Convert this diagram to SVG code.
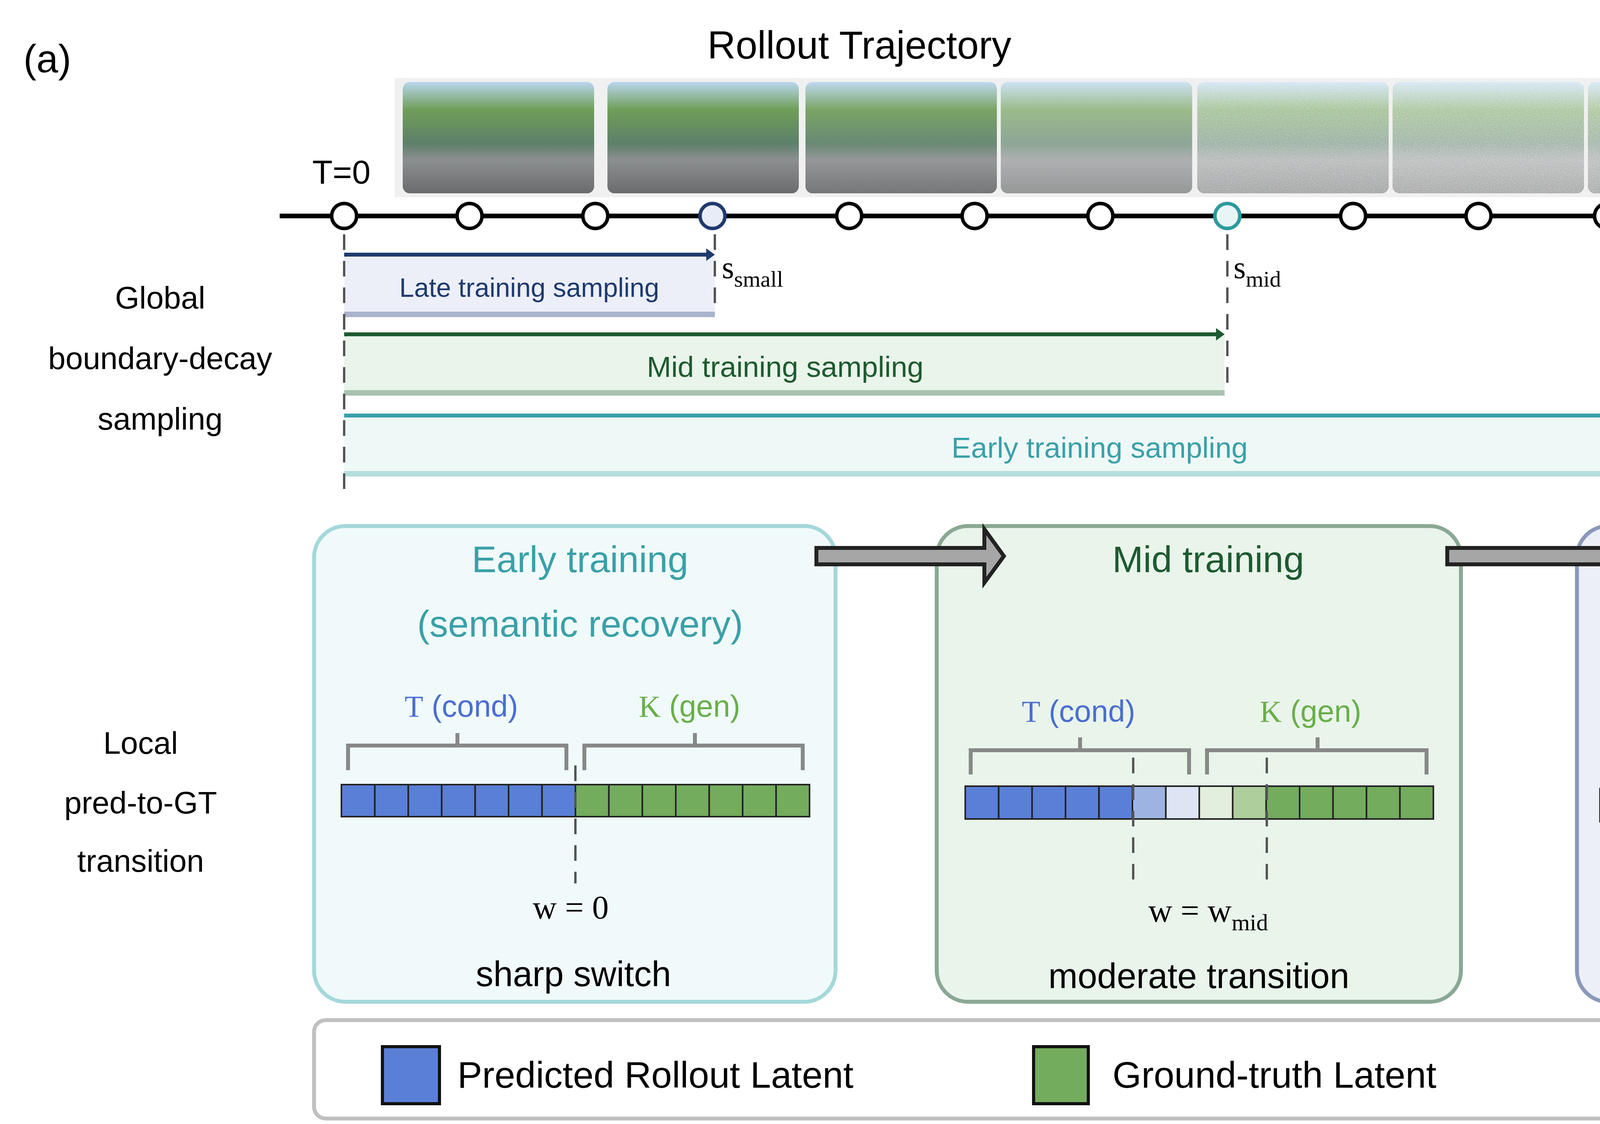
<svg xmlns="http://www.w3.org/2000/svg" width="8000" height="2878" viewBox="0 0 8000 2878">
<style>
.s{font-family:"Liberation Sans","DejaVu Sans",sans-serif}
.o{font-family:"Open Sans","Liberation Sans",sans-serif}
.d{font-family:"DejaVu Sans",sans-serif}
.sr{font-family:"Liberation Serif",serif}
.cell{stroke:#222;stroke-width:4}
.brk{fill:none;stroke:#888;stroke-width:10}
.dash{stroke:#555;stroke-width:6;stroke-dasharray:40 28}
.tick{stroke:#000;stroke-width:6}
.circ{fill:#fff;stroke:#000;stroke-width:9}
</style>
<defs>
<marker id="ah" viewBox="0 0 10 10" refX="9" refY="5" markerWidth="6" markerHeight="6" orient="auto-start-reverse" markerUnits="strokeWidth"><path d="M0,0 L10,5 L0,10 z" fill="#000"/></marker>
<linearGradient id="scene" x1="0" y1="0" x2="0" y2="1"><stop offset="0" stop-color="#b9d6ee"/><stop offset="0.25" stop-color="#6f9e58"/><stop offset="0.55" stop-color="#5d7f6a"/><stop offset="0.7" stop-color="#8c8f90"/><stop offset="1" stop-color="#6a6b6c"/></linearGradient>
<linearGradient id="blend" x1="0" y1="0" x2="1" y2="0"><stop offset="0" stop-color="#5a7fd6"/><stop offset="0.5" stop-color="#ffffff"/><stop offset="1" stop-color="#74ac5e"/></linearGradient>
<linearGradient id="h1" x1="0" y1="0" x2="0" y2="1"><stop offset="0" stop-color="#2a0f5a"/><stop offset="1" stop-color="#1a0b3c"/></linearGradient>
<linearGradient id="h2" x1="0" y1="0" x2="0" y2="1"><stop offset="0" stop-color="#5a1a84"/><stop offset="0.6" stop-color="#3a1070"/><stop offset="1" stop-color="#9a2f80"/></linearGradient>
<linearGradient id="h3" x1="0" y1="0" x2="0" y2="1"><stop offset="0" stop-color="#7a2382"/><stop offset="0.6" stop-color="#4a1278"/><stop offset="1" stop-color="#c04a76"/></linearGradient>
<linearGradient id="h4" x1="0" y1="0" x2="0" y2="1"><stop offset="0" stop-color="#e0705f"/><stop offset="0.5" stop-color="#a0307c"/><stop offset="1" stop-color="#fcd79a"/></linearGradient>
<filter id="noise" x="0" y="0" width="1" height="1"><feTurbulence type="fractalNoise" baseFrequency="0.06" numOctaves="2" seed="3"/><feColorMatrix type="matrix" values="0 0 0 0 0  0 0 0 0 0  0 0 0 0 0  0 0 0 -1.4 1.1"/></filter>
<filter id="wnoise" x="0" y="0" width="1" height="1"><feTurbulence type="fractalNoise" baseFrequency="0.5" numOctaves="1" seed="7"/><feColorMatrix type="matrix" values="0 0 0 0 1  0 0 0 0 1  0 0 0 0 1  0 0 0 -2 1.3"/></filter>
</defs>
<rect width="8000" height="2878" fill="#fff"/>

<text class="s" x="60" y="185" font-size="100">(a)</text>
<text class="s" x="2200" y="150" font-size="100" text-anchor="middle">Rollout Trajectory</text>

<g id="frames">
<rect x="1010" y="200" width="4040" height="305" fill="#f0f0f0"/>
<g id="f1"><rect x="1031" y="210" width="490" height="285" rx="18" fill="url(#scene)"/></g>
<g id="f2"><rect x="1555" y="210" width="490" height="285" rx="18" fill="url(#scene)"/></g>
<g id="f3"><rect x="2062" y="210" width="490" height="285" rx="18" fill="url(#scene)"/><rect x="2062" y="210" width="490" height="285" rx="18" fill="#fff" opacity="0.08"/></g>
<g id="f4"><rect x="2562" y="210" width="490" height="285" rx="18" fill="url(#scene)"/><rect x="2562" y="210" width="490" height="285" rx="18" fill="#fff" opacity="0.3"/></g>
<g id="f5"><rect x="3065" y="210" width="490" height="285" rx="18" fill="url(#scene)"/><rect x="3065" y="210" width="490" height="285" rx="18" fill="#fff" opacity="0.35"/><rect x="3065" y="210" width="490" height="285" filter="url(#wnoise)" opacity="0.5"/></g>
<g id="f6"><rect x="3565" y="210" width="490" height="285" rx="18" fill="url(#scene)"/><rect x="3565" y="210" width="490" height="285" rx="18" fill="#fff" opacity="0.38"/><rect x="3565" y="210" width="490" height="285" filter="url(#wnoise)" opacity="0.55"/></g>
<g id="f7"><rect x="4065" y="210" width="490" height="285" rx="18" fill="url(#scene)"/><rect x="4065" y="210" width="490" height="285" rx="18" fill="#fff" opacity="0.38"/><rect x="4065" y="210" width="490" height="285" filter="url(#wnoise)" opacity="0.6"/></g>
<g id="f8"><rect x="4568" y="210" width="475" height="285" rx="18" fill="url(#scene)"/><rect x="4568" y="210" width="475" height="285" rx="18" fill="#dfe0f0" opacity="0.3"/><rect x="4568" y="210" width="475" height="285" filter="url(#noise)" opacity="0.5"/></g>
</g>

<text class="s" x="874" y="470" font-size="85" text-anchor="middle">T=0</text>
<text class="s" x="5235" y="470" font-size="85" text-anchor="middle">T=n</text>

<g id="s-labels" class="sr" font-size="80">
<text x="1848" y="712">s<tspan font-size="58" dy="22">small</tspan></text>
<text x="3158" y="712">s<tspan font-size="58" dy="22">mid</tspan></text>
<text x="4772" y="712">s<tspan font-size="58" dy="22">large</tspan></text>
</g>

<g id="global-label" class="s" font-size="80" text-anchor="middle">
<text x="410" y="790">Global</text>
<text x="410" y="945">boundary-decay</text>
<text x="410" y="1100">sampling</text>
</g>

<g id="late-sampling">
<rect x="881" y="652" width="949" height="160" fill="#eceff8"/>
<line x1="881" y1="805" x2="1830" y2="805" stroke="#a9b3cb" stroke-width="14"/>
<line x1="881" y1="652" x2="1822" y2="652" stroke="#1f3a6e" stroke-width="10"/>
<path d="M1808,636 L1830,652 L1808,668 Z" fill="#1f3a6e"/>
<text class="s" x="1355" y="760" font-size="68" fill="#1f3a6e" text-anchor="middle">Late training sampling</text>
</g>
<g id="mid-sampling">
<rect x="881" y="856" width="2254" height="157" fill="#e9f4ea"/>
<line x1="881" y1="1006" x2="3135" y2="1006" stroke="#a9c2ae" stroke-width="14"/>
<line x1="881" y1="856" x2="3127" y2="856" stroke="#1e5a30" stroke-width="10"/>
<path d="M3113,840 L3135,856 L3113,872 Z" fill="#1e5a30"/>
<text class="s" x="2010" y="965" font-size="75" fill="#1e5a30" text-anchor="middle">Mid training sampling</text>
</g>
<g id="early-sampling">
<rect x="881" y="1064" width="3869" height="156" fill="#eef8f7"/>
<line x1="881" y1="1213" x2="4750" y2="1213" stroke="#b4dedc" stroke-width="14"/>
<line x1="881" y1="1064" x2="4742" y2="1064" stroke="#3aa0a8" stroke-width="10"/>
<path d="M4728,1048 L4750,1064 L4728,1080 Z" fill="#3aa0a8"/>
<text class="s" x="2815" y="1172" font-size="75" fill="#3aa0a8" text-anchor="middle">Early training sampling</text>
</g>

<g id="local-label" class="s" font-size="80" text-anchor="middle">
<text x="360" y="1930">Local</text>
<text x="360" y="2083">pred-to-GT</text>
<text x="360" y="2232">transition</text>
</g>

<g id="panel-early">
<rect x="804" y="1347" width="1335" height="1218" rx="80" fill="#f0fafa" stroke="#a4d8da" stroke-width="10"/>
<text class="s" x="1485" y="1465" font-size="95" fill="#3aa0a8" text-anchor="middle">Early training</text>
<text class="s" x="1485" y="1630" font-size="95" fill="#3aa0a8" text-anchor="middle">(semantic recovery)</text>
<text x="1181" y="1835" font-size="78" fill="#4a6ed0" text-anchor="middle"><tspan class="sr">T</tspan><tspan class="s"> (cond)</tspan></text>
<text x="1765" y="1835" font-size="78" fill="#6aae4a" text-anchor="middle"><tspan class="sr">K</tspan><tspan class="s"> (gen)</tspan></text>
<path class="brk" d="M891,1972 V1909 H1450 V1972 M1171,1909 V1877 M1496,1972 V1909 H2055 V1972 M1779,1909 V1877"/>
<g class="cell">
<rect x="874" y="2009" width="85.6" height="82" fill="#5a7fd6"/><rect x="959.6" y="2009" width="85.6" height="82" fill="#5a7fd6"/><rect x="1045.2" y="2009" width="85.6" height="82" fill="#5a7fd6"/><rect x="1130.8" y="2009" width="85.6" height="82" fill="#5a7fd6"/><rect x="1216.4" y="2009" width="85.6" height="82" fill="#5a7fd6"/><rect x="1302" y="2009" width="85.6" height="82" fill="#5a7fd6"/><rect x="1387.6" y="2009" width="85.6" height="82" fill="#5a7fd6"/>
<rect x="1473.2" y="2009" width="85.6" height="82" fill="#74ac5e"/><rect x="1558.8" y="2009" width="85.6" height="82" fill="#74ac5e"/><rect x="1644.4" y="2009" width="85.6" height="82" fill="#74ac5e"/><rect x="1730" y="2009" width="85.6" height="82" fill="#74ac5e"/><rect x="1815.6" y="2009" width="85.6" height="82" fill="#74ac5e"/><rect x="1901.2" y="2009" width="85.6" height="82" fill="#74ac5e"/><rect x="1986.8" y="2009" width="85.6" height="82" fill="#74ac5e"/>
</g>
<line class="dash" x1="1473" y1="1960" x2="1473" y2="2262"/>
<text class="sr" x="1461" y="2352" font-size="85" text-anchor="middle">w = 0</text>
<text class="s" x="1468" y="2525" font-size="90" text-anchor="middle">sharp switch</text>
</g>

<g id="panel-mid">
<rect x="2398" y="1347" width="1342" height="1218" rx="80" fill="#e9f4eb" stroke="#8aa894" stroke-width="10"/>
<text class="s" x="3093" y="1465" font-size="95" fill="#1e5a30" text-anchor="middle">Mid training</text>
<text x="2761" y="1848" font-size="78" fill="#4a6ed0" text-anchor="middle"><tspan class="sr">T</tspan><tspan class="s"> (cond)</tspan></text>
<text x="3355" y="1848" font-size="78" fill="#6aae4a" text-anchor="middle"><tspan class="sr">K</tspan><tspan class="s"> (gen)</tspan></text>
<path class="brk" d="M2485,1983 V1921 H3044 V1983 M2765,1921 V1888 M3090,1983 V1921 H3652 V1983 M3373,1921 V1888"/>
<g class="cell">
<rect x="2471" y="2013" width="85.6" height="84" fill="#5a7fd6"/><rect x="2556.6" y="2013" width="85.6" height="84" fill="#5a7fd6"/><rect x="2642.2" y="2013" width="85.6" height="84" fill="#5a7fd6"/><rect x="2727.8" y="2013" width="85.6" height="84" fill="#5a7fd6"/><rect x="2813.4" y="2013" width="85.6" height="84" fill="#5a7fd6"/>
<rect x="2899" y="2013" width="85.6" height="84" fill="#9db4e3"/><rect x="2984.6" y="2013" width="85.6" height="84" fill="#dde5f5"/><rect x="3070.2" y="2013" width="85.6" height="84" fill="#e4eedf"/><rect x="3155.8" y="2013" width="85.6" height="84" fill="#aecf9c"/>
<rect x="3241.4" y="2013" width="85.6" height="84" fill="#74ac5e"/><rect x="3327" y="2013" width="85.6" height="84" fill="#74ac5e"/><rect x="3412.6" y="2013" width="85.6" height="84" fill="#74ac5e"/><rect x="3498.2" y="2013" width="85.6" height="84" fill="#74ac5e"/><rect x="3583.8" y="2013" width="85.6" height="84" fill="#74ac5e"/>
</g>
<line class="dash" x1="2901" y1="1940" x2="2901" y2="2278"/>
<line class="dash" x1="3243" y1="1940" x2="3243" y2="2278"/>
<text class="sr" x="3093" y="2360" font-size="85" text-anchor="middle">w = w<tspan font-size="60" dy="22">mid</tspan></text>
<text class="s" x="3069" y="2530" font-size="90" text-anchor="middle">moderate transition</text>
</g>

<g id="panel-late">
<rect x="4037" y="1347" width="1345" height="1218" rx="80" fill="#eceff7" stroke="#8a98bb" stroke-width="10"/>
<text class="s" x="4701" y="1480" font-size="95" fill="#1f3a6e" text-anchor="middle">Late training</text>
<text class="s" x="4701" y="1645" font-size="95" fill="#1f3a6e" text-anchor="middle">(generic recovery)</text>
<text x="4397" y="1856" font-size="78" fill="#4a6ed0" text-anchor="middle"><tspan class="sr">T</tspan><tspan class="s"> (cond)</tspan></text>
<text x="4980" y="1856" font-size="78" fill="#6aae4a" text-anchor="middle"><tspan class="sr">K</tspan><tspan class="s"> (gen)</tspan></text>
<path class="brk" d="M4117,1988 V1927 H4676 V1988 M4393,1927 V1895 M4722,1988 V1927 H5281 V1988 M5005,1927 V1895"/>
<g class="cell">
<rect x="4096" y="2019" width="85.9" height="85" fill="#5a7fd6"/><rect x="4181.9" y="2019" width="85.9" height="85" fill="#5a7fd6"/><rect x="4267.8" y="2019" width="85.9" height="85" fill="#5a7fd6"/>
<rect x="4353.7" y="2019" width="85.9" height="85" fill="#7f9de0"/><rect x="4439.6" y="2019" width="85.9" height="85" fill="#a8bde8"/><rect x="4525.5" y="2019" width="85.9" height="85" fill="#cbd7ef"/><rect x="4611.4" y="2019" width="85.9" height="85" fill="#eef1f8"/>
<rect x="4697.3" y="2019" width="85.9" height="85" fill="#eef4ea"/><rect x="4783.2" y="2019" width="85.9" height="85" fill="#d6e6cd"/><rect x="4869.1" y="2019" width="85.9" height="85" fill="#bcd7ae"/><rect x="4955" y="2019" width="85.9" height="85" fill="#9fc98b"/>
<rect x="5040.9" y="2019" width="85.9" height="85" fill="#74ac5e"/><rect x="5126.8" y="2019" width="85.9" height="85" fill="#74ac5e"/><rect x="5212.7" y="2019" width="85.9" height="85" fill="#74ac5e"/>
</g>
<line class="dash" x1="4355" y1="1940" x2="4355" y2="2272"/>
<line class="dash" x1="5043" y1="1940" x2="5043" y2="2272"/>
<text class="sr" x="4711" y="2340" font-size="85" text-anchor="middle">w = w<tspan font-size="60" dy="22">max</tspan></text>
<text class="s" x="4683" y="2530" font-size="90" text-anchor="middle">smooth transition</text>
</g>

<g id="connectors">
<line x1="716" y1="553" x2="5375" y2="553" stroke="#000" stroke-width="12" marker-end="url(#ah)"/>
<line class="dash" x1="881" y1="600" x2="881" y2="1275"/>
<line class="dash" x1="1830" y1="600" x2="1830" y2="800"/>
<line class="dash" x1="3142" y1="600" x2="3142" y2="995"/>
<line class="dash" x1="4757" y1="600" x2="4757" y2="1275"/>
<path d="M2090,1403 H2520 V1355 L2570,1424 L2520,1492 V1445 H2090 Z" fill="#a6a6a6" stroke="#222" stroke-width="10"/>
<path d="M3705,1403 H4135 V1355 L4185,1424 L4135,1492 V1445 H3705 Z" fill="#a6a6a6" stroke="#222" stroke-width="10"/>
</g>

<g id="timeline-nodes">
<circle class="circ" cx="881" cy="553" r="32"/>
<circle class="circ" cx="1202" cy="553" r="32"/>
<circle class="circ" cx="1524" cy="553" r="32"/>
<circle cx="1824" cy="553" r="32" fill="#e8ecf6" stroke="#1f3a6e" stroke-width="9"/>
<circle class="circ" cx="2174" cy="553" r="32"/>
<circle class="circ" cx="2495" cy="553" r="32"/>
<circle class="circ" cx="2817" cy="553" r="32"/>
<circle cx="3142" cy="553" r="32" fill="#e8f5f5" stroke="#2a9a9c" stroke-width="9"/>
<circle class="circ" cx="3464" cy="553" r="32"/>
<circle class="circ" cx="3785" cy="553" r="32"/>
<circle class="circ" cx="4114" cy="553" r="32"/>
<circle class="circ" cx="4435" cy="553" r="32"/>
<circle cx="4757" cy="553" r="32" fill="#e8f3ea" stroke="#1e5a30" stroke-width="9"/>
<circle class="circ" cx="5078" cy="553" r="32"/>
</g>

<g id="legend">
<rect x="804" y="2612" width="4578" height="252" rx="30" fill="#fff" stroke="#c0c0c0" stroke-width="10"/>
<rect x="979" y="2680" width="146" height="146" fill="#5a7fd6" stroke="#111" stroke-width="8"/>
<text class="s" x="1171" y="2785" font-size="95">Predicted Rollout Latent</text>
<rect x="2646" y="2680" width="140" height="146" fill="#74ac5e" stroke="#111" stroke-width="8"/>
<text class="s" x="2848" y="2785" font-size="95">Ground-truth Latent</text>
<rect x="4187" y="2680" width="140" height="146" fill="url(#blend)" stroke="#111" stroke-width="8"/>
<text class="s" x="4386" y="2785" font-size="95">Blended Region</text>
</g>

<line x1="5475" y1="673" x2="5475" y2="2371" stroke="#999" stroke-width="10" stroke-dasharray="50 35"/>

<g id="heatmap">
<text class="o" x="6775" y="105" font-size="100" text-anchor="middle">(b) Cross-case Error Heatmap</text>
<g id="hm-row1">
<rect x="5567" y="172" width="604" height="304" fill="url(#h1)"/><rect x="6171" y="172" width="604" height="304" fill="url(#h2)"/><rect x="6775" y="172" width="604" height="304" fill="url(#h3)"/><rect x="7379" y="172" width="605" height="304" fill="url(#h4)"/>
<rect x="7379" y="420" width="605" height="56" fill="#fcf5c0"/><rect x="6775" y="455" width="604" height="21" fill="#f5a070"/>
</g>
<g id="hm-row2">
<rect x="5567" y="518" width="604" height="294" fill="url(#h1)"/><rect x="6171" y="518" width="604" height="294" fill="url(#h2)"/><rect x="6775" y="518" width="604" height="294" fill="url(#h3)"/><rect x="7379" y="518" width="605" height="294" fill="#f8d9a0"/>
<rect x="7379" y="518" width="605" height="160" fill="#fcf3c4"/><rect x="6171" y="760" width="1208" height="40" fill="#e86a5a"/>
</g>
<g id="hm-row3">
<rect x="5567" y="854" width="604" height="294" fill="url(#h1)"/><rect x="6171" y="854" width="604" height="294" fill="url(#h2)"/><rect x="6775" y="854" width="604" height="294" fill="url(#h3)"/><rect x="7379" y="854" width="605" height="294" fill="url(#h4)"/>
<rect x="7379" y="854" width="605" height="120" fill="#f9d9a8"/>
</g>
<rect x="5567" y="172" width="2417" height="304" filter="url(#noise)" opacity="0.45"/>
<rect x="5567" y="518" width="2417" height="294" filter="url(#noise)" opacity="0.45"/>
<rect x="5567" y="854" width="2417" height="294" filter="url(#noise)" opacity="0.45"/>
<g class="o" font-size="108" text-anchor="middle">
<text x="5855" y="1273">10-30</text><text x="6480" y="1273">30-50</text><text x="7079" y="1273">50-70</text><text x="7679" y="1273">70-90</text>
</g>
<line x1="5825" y1="1332" x2="7765" y2="1332" stroke="#000" stroke-width="7" marker-start="url(#ah)" marker-end="url(#ah)"/>
<text class="o" x="5713" y="1430" font-size="108">generic</text>
<text class="o" x="7942" y="1430" font-size="108" text-anchor="end">semantic</text>
</g>

<g id="barchart">
<text class="o" x="6850" y="1620" font-size="100" text-anchor="middle">(c) Cross-case Error Similarity</text>
<rect x="6017" y="1657" width="1730" height="1085" fill="#fdfdfa" stroke="#000" stroke-width="5"/>
<g class="d" font-size="72" text-anchor="end">
<text x="5965" y="2580">0.0</text><text x="5965" y="2356">0.2</text><text x="5965" y="2133">0.4</text><text x="5965" y="1909">0.6</text><text x="5965" y="1685">0.8</text>
</g>
<path class="tick" d="M5992,2555 H6017 M5992,2331 H6017 M5992,2108 H6017 M5992,1884 H6017 M5992,1660 H6017 M6260,2742 V2767 M6673,2742 V2767 M7088,2742 V2767 M7503,2742 V2767"/>
<text class="d" transform="translate(5800,2159) rotate(-90)" font-size="92" text-anchor="middle">off-diagonal cosine</text>
<g fill="#5077a8">
<rect x="6095" y="1861" width="330" height="694"/>
<rect x="6507" y="2348" width="332" height="207"/>
<rect x="6922" y="2342" width="332" height="213"/>
<rect x="7337" y="2407" width="332" height="148"/>
</g>
<g stroke="#000" stroke-width="9">
<line x1="6260" y1="1710" x2="6260" y2="2007"/>
<line x1="6673" y1="2063" x2="6673" y2="2633"/>
<line x1="7088" y1="2046" x2="7088" y2="2641"/>
<line x1="7503" y1="2124" x2="7503" y2="2689"/>
</g>
<g class="d" font-size="95" text-anchor="middle">
<text x="6260" y="2858">10-30</text><text x="6673" y="2858">30-50</text><text x="7088" y="2858">50-70</text><text x="7503" y="2858">70-90</text>
</g>
</g>
</svg>
